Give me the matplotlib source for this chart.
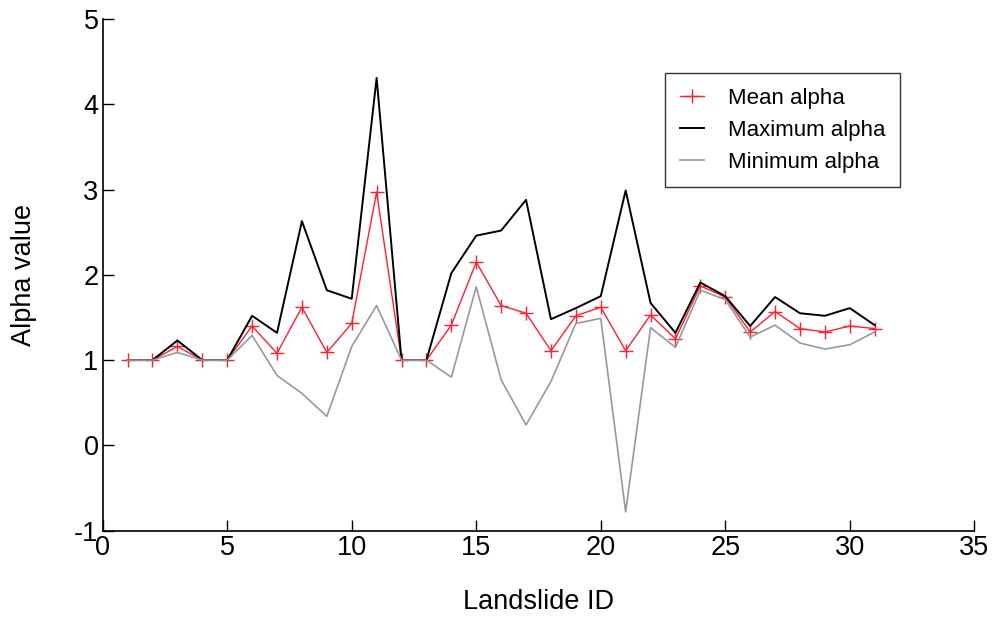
import matplotlib
matplotlib.use("Agg")
import matplotlib.pyplot as plt

plt.rcParams['font.family'] = ['Liberation Sans', 'DejaVu Sans']

landslide_id = list(range(1, 32))
mean_alpha = [1.00, 1.00, 1.16, 1.00, 1.00, 1.40, 1.08, 1.62, 1.09, 1.43,
              2.97, 1.00, 1.00, 1.41, 2.15, 1.64, 1.55, 1.11, 1.52, 1.62,
              1.11, 1.53, 1.25, 1.87, 1.74, 1.33, 1.57, 1.37, 1.33, 1.40, 1.37]
max_alpha = [1.00, 1.00, 1.23, 1.00, 1.00, 1.52, 1.32, 2.63, 1.82, 1.72,
             4.31, 1.00, 1.00, 2.02, 2.46, 2.52, 2.88, 1.48, 1.61, 1.75,
             2.99, 1.67, 1.32, 1.91, 1.75, 1.40, 1.74, 1.55, 1.52, 1.61, 1.41]
min_alpha = [1.00, 1.00, 1.09, 1.00, 1.00, 1.29, 0.82, 0.61, 0.34, 1.16,
             1.64, 1.00, 1.00, 0.80, 1.86, 0.77, 0.24, 0.75, 1.43, 1.49,
             -0.78, 1.38, 1.15, 1.82, 1.71, 1.27, 1.41, 1.20, 1.13, 1.18, 1.33]

xticks = [0, 5, 10, 15, 20, 25, 30, 35]
yticks = [-1, 0, 1, 2, 3, 4, 5]

fig = plt.figure(figsize=(9.95, 6.17), dpi=100)
ax = fig.add_axes([0.1032, 0.140, 0.8760, 0.829])

ax.plot(landslide_id, mean_alpha, color='#ff2030', lw=1.0, marker='+',
        markersize=10, markeredgewidth=1.0, label='Mean alpha')
ax.plot(landslide_id, max_alpha, color='black', lw=1.4, label='Maximum alpha')
ax.plot(landslide_id, min_alpha, color='#999999', lw=1.2, label='Minimum alpha')

ax.set_xlim(0, 35)
ax.set_ylim(-1, 5)
ax.set_xticks(xticks)
ax.set_yticks(yticks)
ax.set_xticklabels([str(t) for t in xticks])
ax.set_yticklabels([str(t) for t in yticks])
ax.spines['top'].set_visible(False)
ax.spines['right'].set_visible(False)
ax.spines['left'].set_linewidth(1.2)
ax.spines['bottom'].set_linewidth(1.2)
ax.tick_params(direction='in', length=8, width=1.0, labelsize=19.5, pad=3)
ax.set_xlabel('Landslide ID', fontsize=19.5, labelpad=20)
ax.set_ylabel('Alpha value', fontsize=19.5, labelpad=27)

leg = ax.legend(loc='upper left', bbox_to_anchor=(0.6457, 0.894), fontsize=16,
                frameon=True, fancybox=False, edgecolor='black',
                handlelength=1.1, handletextpad=1.05, borderpad=0.65,
                labelspacing=0.5, borderaxespad=0)
leg.get_frame().set_linewidth(1.0)

fig.savefig('out.png', dpi=100)
